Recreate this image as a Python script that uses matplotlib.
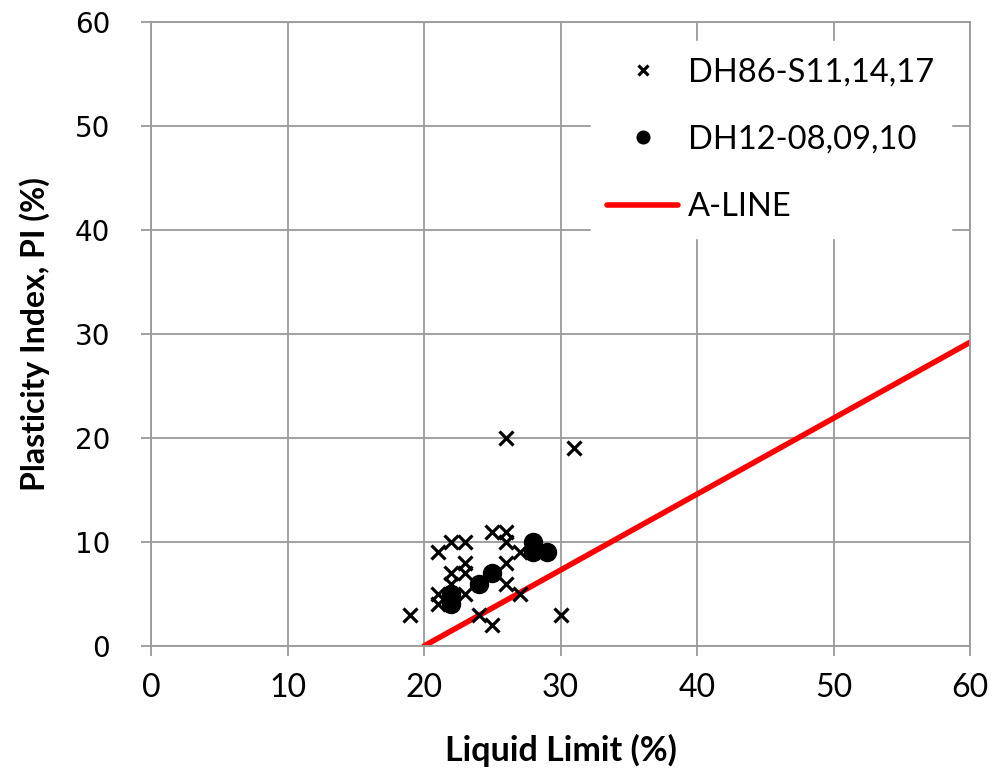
import matplotlib
matplotlib.use("Agg")
import matplotlib.pyplot as plt
import numpy as np

# DH86-S11,14,17 (x markers)
dh86_ll = [19, 21, 22, 23, 25, 26, 26, 27, 26, 23, 22, 23, 22, 21, 21, 23, 26, 27, 24, 25, 30, 26, 31]
dh86_pi = [3, 9, 10, 10, 11, 11, 10, 9, 8, 8, 7, 7, 6, 5, 4, 5, 6, 5, 3, 2, 3, 20, 19]

# DH12-08,09,10 (filled circles)
dh12_ll = [22, 22, 24, 25, 28, 28, 29]
dh12_pi = [4, 5, 6, 7, 10, 9, 9]

# A-line: PI = 0.73 (LL - 20)
aline_ll = [20, 60]
aline_pi = [0.73 * (v - 20) for v in aline_ll]

x_ticks = [0, 10, 20, 30, 40, 50, 60]
y_ticks = [0, 10, 20, 30, 40, 50, 60]

body_font = ['Lato', 'DejaVu Sans']

fig = plt.figure(figsize=(10.05, 7.71), dpi=100)
ax = fig.add_axes([151/1005, 1 - 646/771, (970-151)/1005, (646-22)/771])

grid_c = '#9a9a9a'
ax.set_xlim(0, 60)
ax.set_ylim(0, 60)
ax.set_xticks(x_ticks)
ax.set_yticks(y_ticks)
ax.set_xticklabels([str(v) for v in x_ticks], fontfamily='Lato', fontsize=23)
ax.set_yticklabels([str(v) for v in y_ticks], fontfamily='DejaVu Sans', fontsize=20)
ax.grid(True, color=grid_c, linewidth=1.3)
ax.set_axisbelow(True)
for s in ax.spines.values():
    s.set_color(grid_c)
    s.set_linewidth(1.3)
ax.tick_params(axis='both', direction='out', length=7.5, width=1.3, color=grid_c)
ax.tick_params(axis='x', pad=12)
ax.tick_params(axis='y', pad=22)

ax.plot(dh86_ll, dh86_pi, linestyle='none', marker='x', color='black',
        markersize=10, markeredgewidth=2.3, label='DH86-S11,14,17', zorder=3)
ax.plot(dh12_ll, dh12_pi, linestyle='none', marker='o', color='black',
        markersize=13, label='DH12-08,09,10', zorder=4)
ax.plot(aline_ll, aline_pi, color='#ff0000', linewidth=4, label='A-LINE',
        solid_capstyle='round', zorder=2)

ax.set_xlabel('Liquid Limit (%)', fontsize=24.5, fontweight='bold',
              family=body_font, labelpad=22)
ax.set_ylabel('Plasticity Index, PI (%)', fontsize=23, fontweight='bold',
              family=body_font, labelpad=18)

leg = ax.legend(loc='upper left', bbox_to_anchor=(0.537, 0.97), frameon=True,
                prop={'family': body_font, 'size': 23.5}, handlelength=2.18,
                labelspacing=1.15, borderpad=0.5, handletextpad=0.3,
                borderaxespad=0, fancybox=False, markerscale=0.7)
leg.get_frame().set_edgecolor('white')
leg.get_frame().set_facecolor('white')
leg.get_frame().set_alpha(1)

fig.savefig('out.png', dpi=100, facecolor='white')
